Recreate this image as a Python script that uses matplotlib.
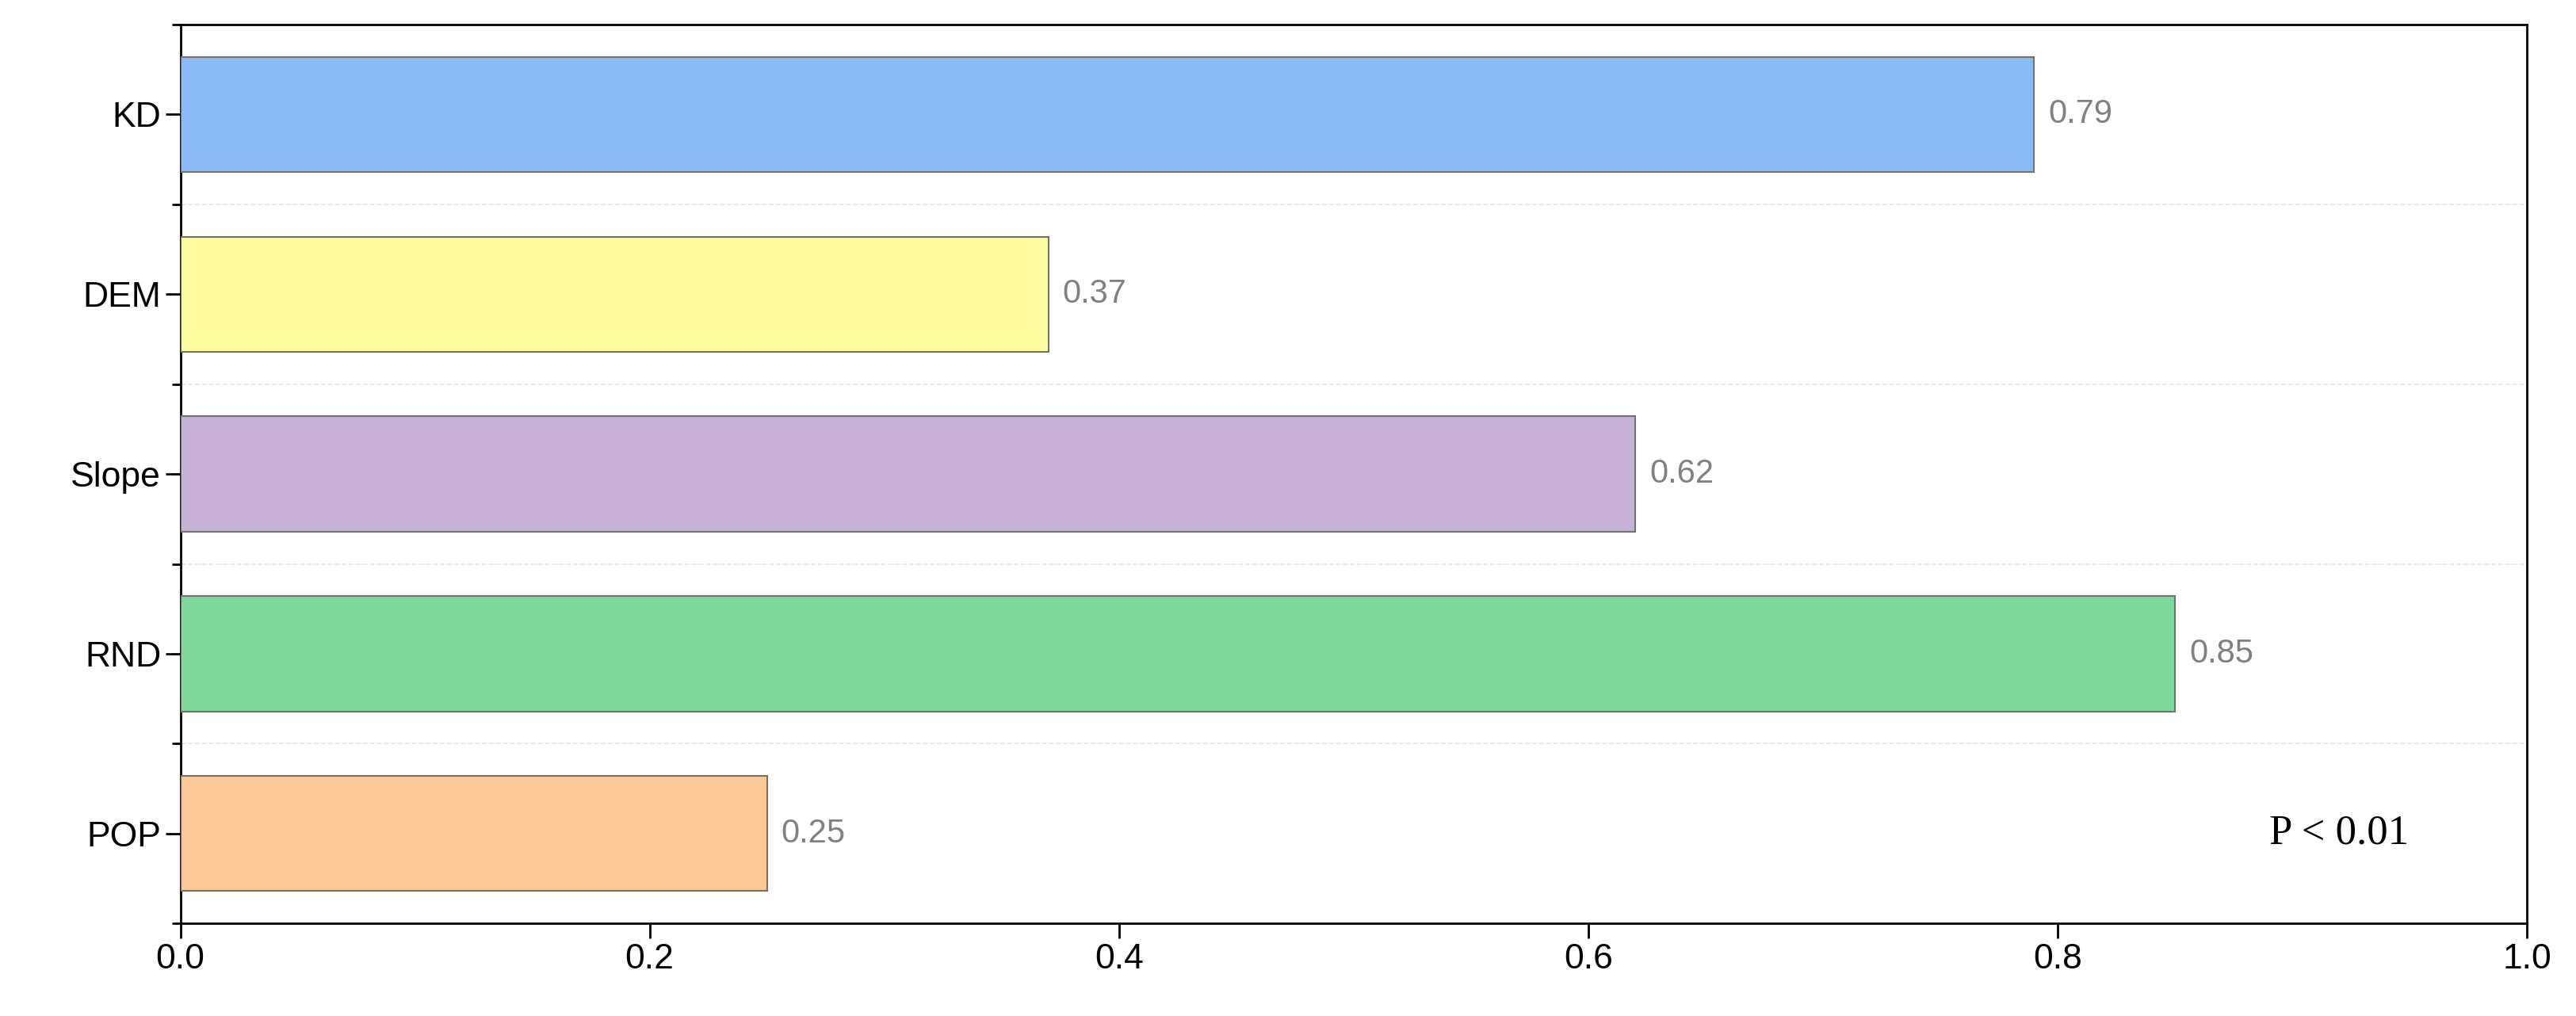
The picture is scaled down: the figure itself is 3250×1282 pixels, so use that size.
import matplotlib.pyplot as plt
from matplotlib.ticker import MultipleLocator

categories = ['KD', 'DEM', 'Slope', 'RND', 'POP']
values = [0.79, 0.37, 0.62, 0.85, 0.25]
colors = ['#8BBBF6', '#FDFD9E', '#C8B1D6', '#7ED99A', '#FEC896']

plt.rcParams['font.family'] = ['Liberation Sans', 'DejaVu Sans']
fig = plt.figure(figsize=(32.5, 12.82), dpi=100)
ax = fig.add_axes([0.070, 0.091, 0.911, 0.885])

pos = list(range(len(categories)))[::-1]
ax.barh(pos, values, height=0.64, color=colors, edgecolor='#707070', linewidth=1.5, zorder=3)
for p, v in zip(pos, values):
    ax.text(v + 0.006, p, f'{v:.2f}', va='center', ha='left', fontsize=30, color='#808080')

# faint dashed separators between categories
for b in [0.5, 1.5, 2.5, 3.5]:
    ax.axhline(b, color='#e6e6e6', linewidth=1.2, linestyle='--', zorder=1)

ax.set_xlim(0, 1.0)
ax.set_ylim(-0.5, 4.5)
ax.set_yticks(pos)
ax.set_yticklabels(categories)
ax.yaxis.set_minor_locator(MultipleLocator(1))
ax.set_yticks([0.5, 1.5, 2.5, 3.5, -0.5, 4.5], minor=True)
ax.xaxis.set_major_locator(MultipleLocator(0.2))
ax.tick_params(axis='both', which='major', labelsize=32, length=14, width=2, direction='out')
ax.tick_params(axis='y', which='minor', length=8, width=2, direction='out')
for s in ax.spines.values():
    s.set_linewidth(2)

ax.text(0.92, 0, 'P < 0.01', ha='center', va='center', fontsize=38, family=['Liberation Serif'])

fig.savefig('out.png')
